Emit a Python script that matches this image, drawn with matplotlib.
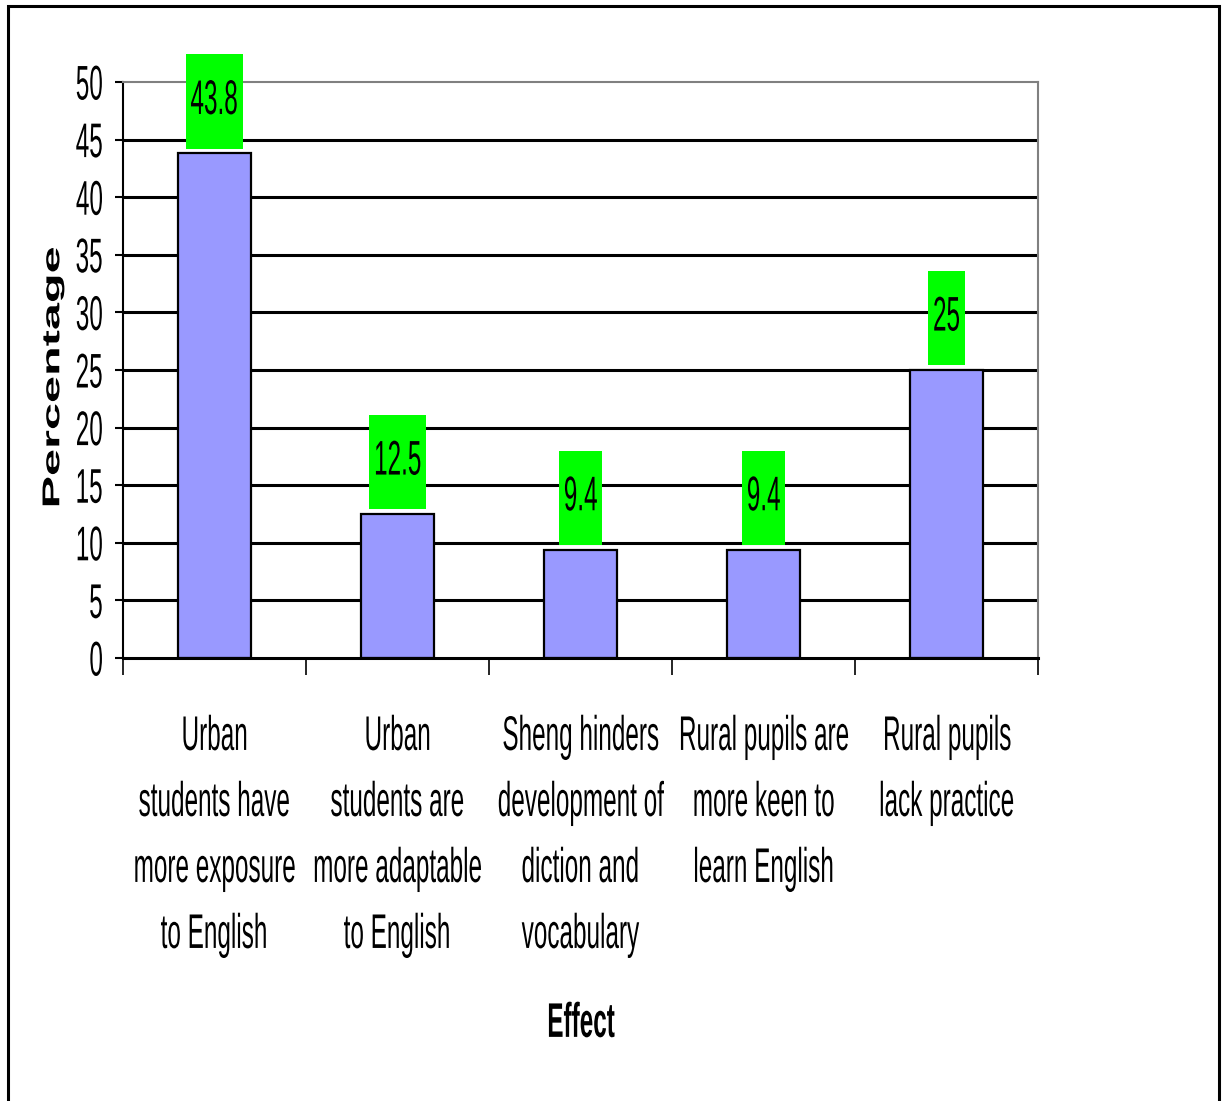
import matplotlib
matplotlib.use("Agg")
import matplotlib.pyplot as plt
import matplotlib.patheffects as pe
from matplotlib.patches import Rectangle
from matplotlib.transforms import Affine2D, Bbox

categories = [
    "Urban\nstudents have\nmore exposure\nto English",
    "Urban\nstudents are\nmore adaptable\nto English",
    "Sheng hinders\ndevelopment of\ndiction and\nvocabulary",
    "Rural pupils are\nmore keen to\nlearn English",
    "Rural pupils\nlack practice",
]
percentages = [43.8, 12.5, 9.4, 9.4, 25]
value_labels = ["43.8", "12.5", "9.4", "9.4", "25"]
y_ticks = [0, 5, 10, 15, 20, 25, 30, 35, 40, 45, 50]
x_label = "Effect"
y_label = "Percentage"


class Squeeze(pe.AbstractPathEffect):
    # the source chart is squashed sideways, so draw text narrow around an anchor
    def __init__(self, sx=0.5, sy=1.0, anchor="center"):
        super().__init__()
        self.sx = sx
        self.sy = sy
        self.anchor = anchor

    def draw_path(self, renderer, gc, tpath, affine, rgbFace=None):
        ext = tpath.get_extents(affine)
        if self.anchor == "right":
            x0 = ext.x1
        elif self.anchor == "left":
            x0 = ext.x0
        else:
            x0 = (ext.x0 + ext.x1) / 2
        y0 = (ext.y0 + ext.y1) / 2
        t = affine + Affine2D().translate(-x0, -y0).scale(self.sx, self.sy).translate(x0, y0)
        renderer.draw_path(gc, tpath, t, rgbFace)


def narrow(text, sx, sy=1.0, anchor="center"):
    # squeeze the drawing and report the narrower box too
    text.set_path_effects([Squeeze(sx, anchor=anchor)])
    full = text.get_window_extent

    def extent(renderer=None, dpi=None):
        bb = full(renderer, dpi)
        w = bb.width * sx
        h = bb.height * sy
        x0 = bb.x1 - w if anchor == "right" else bb.x0 + (bb.width - w) / 2
        y0 = bb.y0 + (bb.height - h) / 2
        return Bbox.from_bounds(x0, y0, w, h)

    text.get_window_extent = extent


SX = 0.5
plt.rcParams["font.family"] = ["Liberation Sans", "DejaVu Sans"]
plt.rcParams["font.size"] = 35

fig = plt.figure(figsize=(12.26, 11.01), dpi=100)
ax = fig.add_axes([123 / 1226, 1 - 658 / 1101, 915 / 1226, 576 / 1101])

x = list(range(len(categories)))
ax.bar(x, percentages, width=0.4, color="#9999FF", edgecolor="black", linewidth=1.6, zorder=1)

# horizontal grid, the top line is the grey plot border
ax.hlines(y_ticks[1:-1], -0.5, len(categories) - 0.5, colors="black", linewidth=2.2, zorder=0.5)

ax.set_xlim(-0.5, len(categories) - 0.5)
ax.set_ylim(y_ticks[0], y_ticks[-1])
ax.set_yticks(y_ticks)
ax.tick_params(axis="y", direction="out", length=5.8, width=1.5, pad=8, labelsize=35)

ax.set_xticks([i - 0.5 for i in range(len(categories) + 1)])
ax.set_xticklabels([])
ax.set_xticks(x, minor=True)
ax.set_xticklabels(categories, minor=True, linespacing=1.6)
ax.tick_params(axis="x", which="major", direction="out", length=12.2, width=1.2)
ax.tick_params(axis="x", which="minor", length=0, pad=41, labelsize=35)

for s in ["top", "right"]:
    ax.spines[s].set_color("#808080")
    ax.spines[s].set_linewidth(1.5)
ax.spines["left"].set_linewidth(1.5)
ax.spines["bottom"].set_linewidth(2.2)

for lab in ax.get_yticklabels():
    narrow(lab, SX, anchor="right")
for lab in ax.get_xticklabels(minor=True):
    narrow(lab, SX)

# value labels on green boxes
for i, (v, s) in enumerate(zip(percentages, value_labels)):
    t = ax.annotate(s, xy=(i, v), xytext=(0, 37.4), textcoords="offset points",
                    ha="center", va="center", fontsize=35, zorder=4,
                    bbox=dict(boxstyle="square,pad=0.2", fc="#00FF00", ec="none"))
    narrow(t, SX, 1.46)
    t.get_bbox_patch().set_path_effects([Squeeze(SX, 1.46)])

xl = ax.set_xlabel(x_label, fontweight="bold", fontsize=35)
ax.xaxis.set_label_coords(0.5, -0.597)
narrow(xl, SX)

yl = ax.set_ylabel(y_label, fontweight="bold", fontsize=35, va="center")
ax.yaxis.set_label_coords(-0.077, 0.487)
narrow(yl, SX)

# outer frame of the picture
fig.add_artist(Rectangle((8 / 1226, -0.01), 1211 / 1226, 1 - 6 / 1101 + 0.01,
                         transform=fig.transFigure, fill=False, edgecolor="black", linewidth=2.2))

fig.savefig("out.png", dpi=100)
